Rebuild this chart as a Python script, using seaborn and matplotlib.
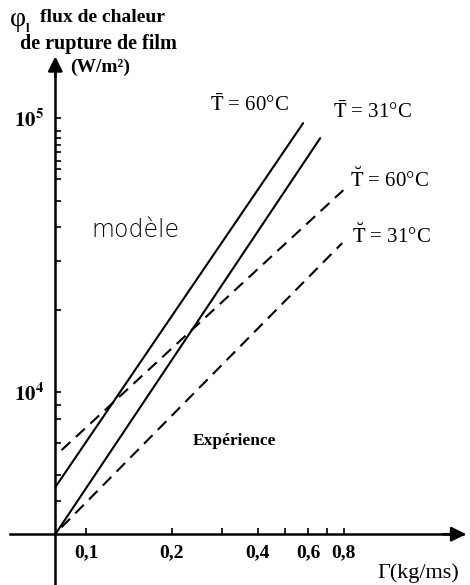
import numpy as np
import pandas as pd
import matplotlib
matplotlib.use("Agg")
import matplotlib.pyplot as plt
import seaborn as sns
from matplotlib.ticker import FixedLocator, FixedFormatter, NullFormatter

# ---- data (log-log) ----
gamma_sol60 = [0.078, 0.577]
phi_sol60 = [4500, 95900]
gamma_sol31 = [0.078, 0.662]
phi_sol31 = [3030, 84500]
gamma_dash60 = [0.082, 0.798]
phi_dash60 = [6140, 54600]
gamma_dash31 = [0.082, 0.791]
phi_dash31 = [3210, 35000]

x_major = [0.1, 0.2, 0.4, 0.6, 0.8]
x_major_labels = ["0,1", "0,2", "0,4", "0,6", "0,8"]
x_minor = [0.3, 0.5, 0.7]
y_major = [1e4, 1e5]
y_major_labels = [r"$\mathbf{10^{4}}$", r"$\mathbf{10^{5}}$"]
y_minor = [4000, 5000, 6500, 8000, 9000, 20000, 30000, 40000, 50000,
           60000, 65000, 70000, 75000, 80000, 85000, 90000]

df = pd.concat([
    pd.DataFrame({"gamma": gamma_sol60, "phi": phi_sol60, "serie": "sol60"}),
    pd.DataFrame({"gamma": gamma_sol31, "phi": phi_sol31, "serie": "sol31"}),
    pd.DataFrame({"gamma": gamma_dash60, "phi": phi_dash60, "serie": "dash60"}),
    pd.DataFrame({"gamma": gamma_dash31, "phi": phi_dash31, "serie": "dash31"}),
])

sns.set_style("white")
plt.rcParams["font.family"] = ["Liberation Serif", "DejaVu Serif"]
plt.rcParams["mathtext.fontset"] = "stix"

W, H = 470, 585
fig = plt.figure(figsize=(W / 100, H / 100), dpi=100)
ax = fig.add_axes([0, 0, 1, 1])
ax.set_xscale("log")
ax.set_yscale("log")

x0, y0 = 0.078, 3030

for name, ls in [("sol60", "-"), ("sol31", "-"), ("dash60", "--"), ("dash31", "--")]:
    sub = df[df.serie == name]
    sns.lineplot(data=sub, x="gamma", y="phi", ax=ax, color="black",
                 lw=1.5, estimator=None, sort=False)
    line = ax.lines[-1]
    line.set_linestyle(ls)
    if ls == "--":
        line.set_dashes([5.8, 3.6])

ax.set_xlabel("")
ax.set_ylabel("")
ax.set_xlim(0.0499, 2.22)
ax.set_ylim(1977, 270000)

for s in ["top", "right"]:
    ax.spines[s].set_visible(False)
ax.spines["left"].set_position(("data", x0))
ax.spines["bottom"].set_position(("data", y0))
ax.spines["left"].set_bounds(1977, 160000)
ax.spines["bottom"].set_bounds(0.0541, 2.1)
for s in ["left", "bottom"]:
    ax.spines[s].set_linewidth(1.8)
    ax.spines[s].set_color("black")

ax.xaxis.set_major_locator(FixedLocator(x_major))
ax.xaxis.set_major_formatter(FixedFormatter(x_major_labels))
ax.xaxis.set_minor_locator(FixedLocator(x_minor))
ax.xaxis.set_minor_formatter(NullFormatter())
ax.yaxis.set_major_locator(FixedLocator(y_major))
ax.yaxis.set_major_formatter(FixedFormatter(y_major_labels))
ax.yaxis.set_minor_locator(FixedLocator(y_minor))
ax.yaxis.set_minor_formatter(NullFormatter())
ax.tick_params(axis="both", which="both", direction="in", length=4, width=1.2,
               colors="black", bottom=True, left=True, top=False, right=False)
ax.tick_params(axis="x", labelsize=14, pad=7)
ax.tick_params(axis="y", labelsize=15, pad=8)
for lab in ax.get_xticklabels():
    lab.set_fontweight("bold")

# arrowheads
ax.annotate("", xy=(x0, 172000), xytext=(x0, 138000),
            arrowprops=dict(arrowstyle="-|>", color="black", lw=1.8, mutation_scale=22))
ax.annotate("", xy=(2.2, y0), xytext=(1.75, y0),
            arrowprops=dict(arrowstyle="-|>", color="black", lw=1.8, mutation_scale=22))

def T(px, py, s, **kw):
    ax.text(px / W, 1 - py / H, s, transform=ax.transAxes, color="black", **kw)

T(10, 19, "φ", fontsize=20, va="center")
T(26, 29, "l", fontsize=9, fontweight="bold", va="center")
T(40, 18, "flux de chaleur", fontsize=14, fontweight="bold", va="center")
T(20, 44, "de rupture de film", fontsize=14.5, fontweight="bold", va="center")
T(70, 67, "(W/m²)", fontsize=14, fontweight="bold", va="center")

T(210, 105, r"$\bar{\mathrm{T}}$ = 60°C", fontsize=15, va="center")
T(333, 112, r"$\bar{\mathrm{T}}$ = 31°C", fontsize=15, va="center")
T(350, 180, r"$\breve{\mathrm{T}}$ = 60°C", fontsize=15, va="center")
T(352, 236, r"$\breve{\mathrm{T}}$ = 31°C", fontsize=15, va="center")

T(91, 230, "modèle", fontsize=17, va="center", family="DejaVu Sans",
  fontweight="light")
T(193, 441, "Expérience", fontsize=12.5, fontweight="bold", va="center")
T(377, 573, "Γ(kg/ms)", fontsize=16, va="center")

fig.savefig("out.png", dpi=100)
